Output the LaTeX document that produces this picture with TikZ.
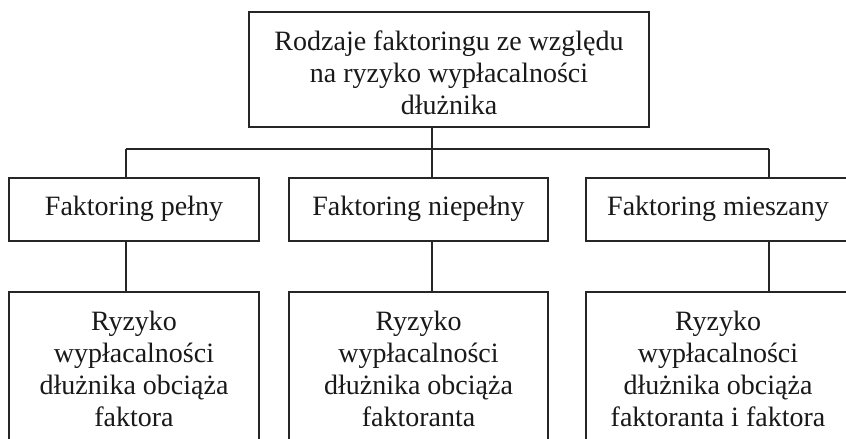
\documentclass[tikz,border=0pt]{standalone}
\usepackage{fontspec}
\setmainfont{Liberation Serif}
\begin{document}
\begin{tikzpicture}[x=1pt,y=-1pt,
  box/.style={draw=black!85, line width=1.8pt, rectangle, inner sep=0pt},
  txt/.style={inner sep=0pt, align=center, font=\fontsize{28}{32}\selectfont, text=black!90},
  conn/.style={draw=black!85, line width=1.6pt}]
\useasboundingbox (0,0) rectangle (846,439);
\fill[white] (0,0) rectangle (846,439);
\begin{scope}
\clip (0,0) rectangle (846,439);
% boxes
\node[box, minimum width=400pt, minimum height=115pt] (top) at (449,69.5) {};
\node[box, minimum width=250pt, minimum height=63pt] (m1) at (134,209.5) {};
\node[box, minimum width=259pt, minimum height=63pt] (m2) at (418.5,209.5) {};
\node[box, minimum width=264pt, minimum height=63pt] (m3) at (718,209.5) {};
\node[box, minimum width=250pt, minimum height=168pt] (r1) at (134,376) {};
\node[box, minimum width=259pt, minimum height=168pt] (r2) at (418.5,376) {};
\node[box, minimum width=264pt, minimum height=168pt] (r3) at (718,376) {};
% texts
\node[txt, anchor=north] (t0) at (449,31) {Rodzaje faktoringu ze względu\\na ryzyko wypłacalności\\dłużnika};
\node[txt, anchor=base] (tm1) at (134,215) {Faktoring pełny};
\node[txt, anchor=base] (tm2) at (418.5,215) {Faktoring niepełny};
\node[txt, anchor=base] (tm3) at (718,215) {Faktoring mieszany};
\node[txt, anchor=north] (tr1) at (134,311) {Ryzyko\\wypłacalności\\dłużnika obciąża\\faktora};
\node[txt, anchor=north] (tr2) at (418.5,311) {Ryzyko\\wypłacalności\\dłużnika obciąża\\faktoranta};
\node[txt, anchor=north] (tr3) at (718,311) {Ryzyko\\wypłacalności\\dłużnika obciąża\\faktoranta i faktora};
% connectors
\coordinate (b1) at (125.7,149);
\coordinate (b2) at (432,149);
\coordinate (b3) at (769,149);
\draw[conn] (top.south -| b2) -- (b2);
\draw[conn] (b1) -- (b3);
\draw[conn] (b1) -- (b1 |- m1.north);
\draw[conn] (b2) -- (b2 |- m2.north);
\draw[conn] (b3) -- (b3 |- m3.north);
\draw[conn] (b1 |- m1.south) -- (b1 |- r1.north);
\draw[conn] (b2 |- m2.south) -- (b2 |- r2.north);
\draw[conn] (b3 |- m3.south) -- (b3 |- r3.north);
\end{scope}
\end{tikzpicture}
\end{document}
